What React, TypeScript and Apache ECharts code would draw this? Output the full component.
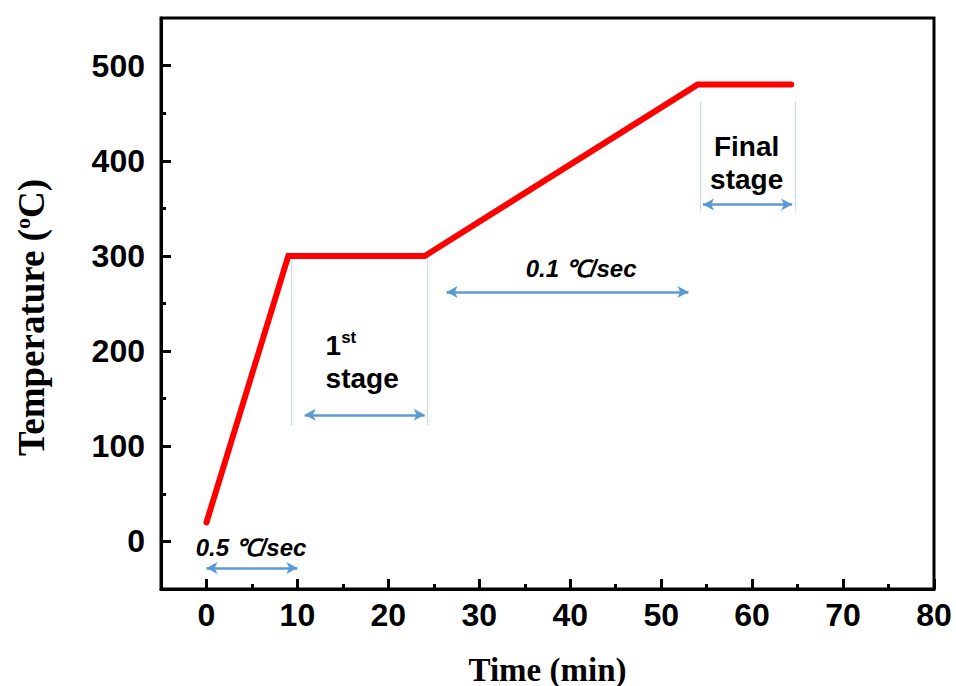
import React, { useEffect, useRef } from "react";
import * as echarts from "echarts";

// Heating profile (time in min, temperature in °C)
const timeMin = [0, 9, 24, 54, 64.3];
const tempC = [20, 300, 300, 480, 480];

// Axis ticks
const xMajor = [0, 10, 20, 30, 40, 50, 60, 70, 80];
const xMinor = [5, 15, 25, 35, 45, 55, 65, 75];
const yMajor = [0, 100, 200, 300, 400, 500];
const yMinor = [50, 150, 250, 350, 450];

// Double-headed arrows: [x1, x2, y]
const arrows = [
  [0, 10, -28],
  [10.8, 24, 133],
  [26.4, 53, 262],
  [54.6, 64.4, 354],
];
// Dotted guide lines: [x, yFrom, yTo]
const guides = [
  [9.3, 122, 300],
  [24.3, 122, 300],
  [54.3, 348, 462],
  [64.7, 348, 462],
];
// Annotation texts
const annoText = ["0.5 ℃/sec", "1st stage", "0.1 ℃/sec", "Final stage"];
const annoX = [4.9, 13.1, 41.2, 59.4];
const annoY = [-6, 189, 287, 398];

export default function App() {
  const ref = useRef<HTMLDivElement>(null);
  useEffect(() => {
    if (!ref.current) return;
    const chart = echarts.init(ref.current, undefined, { renderer: "svg" });
    const labelFont = {
      fontFamily: "Liberation Sans, Arial, sans-serif",
      fontWeight: "bold" as const,
      fontSize: 32,
      color: "#000",
    };
    const arrowLines = arrows.map((a) => [
      { coord: [a[0], a[2]] },
      { coord: [a[1], a[2]] },
    ]);
    const guideLines = guides.map((g) => [
      { coord: [g[0], g[1]] },
      { coord: [g[0], g[2]] },
    ]);
    const annoData = annoText.map((t, i) => ({
      value: [annoX[i], annoY[i]],
      name: t,
      label: { align: t === "1st stage" ? "left" : "center" },
    }));
    const sans = "Liberation Sans, Arial, sans-serif";
    const richBold = {
      b: { fontSize: 28, fontWeight: "bold", fontFamily: sans, color: "#000", lineHeight: 33 },
      s: { fontSize: 17, fontWeight: "bold", fontFamily: sans, color: "#000", lineHeight: 33, verticalAlign: "top" },
      i: { fontSize: 24, fontWeight: "bold", fontStyle: "italic", fontFamily: sans, color: "#000" },
    };
    const serif = "Liberation Serif, Times New Roman, serif";
    chart.setOption({
      animation: false,
      grid: {
        left: 161,
        top: 18,
        right: 22,
        bottom: 97,
        containLabel: false,
        outerBoundsMode: "none",
        show: true,
        borderColor: "#000",
        borderWidth: 3,
        backgroundColor: "#fff",
      },
      xAxis: [
        {
          type: "value",
          min: -5,
          max: 80,
          name: "Time (min)",
          nameLocation: "middle",
          nameGap: 64,
          nameTextStyle: {
            fontFamily: serif,
            fontWeight: "bold",
            fontSize: 33,
            color: "#000",
          },
          splitLine: { show: false },
          axisLine: { show: true, onZero: false, lineStyle: { color: "#000", width: 3 } },
          axisTick: { show: true, inside: true, length: 10, customValues: xMajor, lineStyle: { color: "#000", width: 3 } },
          axisLabel: { ...labelFont, margin: 10, customValues: xMajor },
        },
        {
          type: "value",
          min: -5,
          max: 80,
          position: "bottom",
          splitLine: { show: false },
          axisLine: { show: false, onZero: false },
          axisTick: { show: true, inside: true, length: 5, customValues: xMinor, lineStyle: { color: "#000", width: 3 } },
          axisLabel: { show: false },
        },
      ],
      yAxis: [
        {
          type: "value",
          min: -50,
          max: 550,
          name: "{a|Temperature (}{s|o}{a|C)}",
          nameLocation: "middle",
          nameGap: 110,
          nameRotate: 90,
          nameTextStyle: {
            padding: [0, 28, 0, 0],
            rich: {
              a: { fontFamily: serif, fontWeight: "bold", fontSize: 37, color: "#000", lineHeight: 40 },
              s: { fontFamily: serif, fontWeight: "bold", fontSize: 22, color: "#000", lineHeight: 40, verticalAlign: "top" },
            },
          },
          splitLine: { show: false },
          axisLine: { show: true, onZero: false, lineStyle: { color: "#000", width: 3 } },
          axisTick: { show: true, inside: true, length: 10, customValues: yMajor, lineStyle: { color: "#000", width: 3 } },
          axisLabel: { ...labelFont, margin: 16, customValues: yMajor },
        },
        {
          type: "value",
          min: -50,
          max: 550,
          position: "left",
          splitLine: { show: false },
          axisLine: { show: false, onZero: false },
          axisTick: { show: true, inside: true, length: 5, customValues: yMinor, lineStyle: { color: "#000", width: 3 } },
          axisLabel: { show: false },
        },
      ],
      series: [
        {
          type: "line",
          data: timeMin.map((t, i) => [t, tempC[i]]),
          showSymbol: false,
          symbol: "none",
          lineStyle: { color: "#ff0000", width: 6, cap: "round", join: "miter" },
          z: 5,
          markLine: {
            silent: true,
            animation: false,
            label: { show: false },
            symbol: ["none", "none"],
            lineStyle: { color: "#8fb4dc", width: 1, type: "dotted" },
            data: guideLines,
          },
        },
        {
          type: "line",
          data: [],
          markLine: {
            silent: true,
            animation: false,
            label: { show: false },
            symbol: ["arrow", "arrow"],
            symbolSize: [9, 11],
            lineStyle: { color: "#5b9bd5", width: 2.5, type: "solid" },
            data: arrowLines,
          },
        },
        {
          type: "scatter",
          symbolSize: 0,
          silent: true,
          itemStyle: { opacity: 1 },
          data: annoData,
          label: {
            show: true,
            position: "inside",
            color: "#000",
            opacity: 1,
            textBorderWidth: 0,
            formatter: (p: any) => {
              const t = p.name as string;
              if (t === "1st stage") return "{b|1}{s|st}\n{b|stage}";
              if (t === "Final stage") return "{b|Final}\n{b|stage}";
              return "{i|" + t + "}";
            },
            verticalAlign: "middle",
            rich: richBold,
          },
        },
      ],
    });
    return () => chart.dispose();
  }, []);
  return (
    <div
      ref={ref}
      style={{ position: "fixed", left: 0, top: 0, width: 956, height: 686, background: "#fff" }}
    />
  );
}
